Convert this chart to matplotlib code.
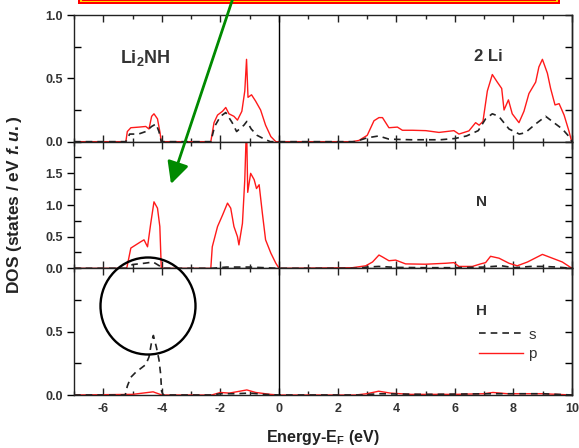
import numpy as np
import matplotlib.pyplot as plt
from matplotlib.patches import Rectangle, Ellipse, FancyArrowPatch
from matplotlib.lines import Line2D
from matplotlib.ticker import MultipleLocator, FormatStrFormatter

plt.rcParams['font.family'] = ['Liberation Sans', 'DejaVu Sans']
plt.rcParams['font.weight'] = 'bold'
plt.rcParams['axes.unicode_minus'] = False
plt.rcParams['mathtext.fontset'] = 'custom'
plt.rcParams['mathtext.rm'] = 'Liberation Sans:bold'
plt.rcParams['mathtext.bf'] = 'Liberation Sans:bold'
plt.rcParams['mathtext.it'] = 'Liberation Sans:italic:bold'

# ---- data (energy in eV, DOS in states/eV f.u.) ----
# panel 1: 2 Li
li_p_e = [-7, -5.23, -5.18, -5.06, -4.78, -4.55, -4.44, -4.35, -4.27, -4.15, -4.07, -4.02,
          -2.33, -2.22, -2.10, -1.93, -1.82, -1.71, -1.54, -1.42, -1.27, -1.17, -1.11, -1.06,
          -0.94, -0.80, -0.63, -0.46, -0.28, -0.11,
          2.50, 2.73, 3.01, 3.24, 3.41, 3.53, 3.75, 4.04, 4.21, 4.55, 5.01, 5.46, 5.97, 6.14, 6.48,
          6.71, 6.83, 6.96, 7.11, 7.28, 7.45, 7.60, 7.68, 7.83, 7.96, 8.19, 8.36, 8.53, 8.76,
          8.87, 8.99, 9.16, 9.27, 9.42, 9.56, 9.73, 9.90, 9.99]
li_p = [0, 0, 0.08, 0.11, 0.115, 0.12, 0.10, 0.20, 0.22, 0.18, 0.08, 0,
        0, 0.15, 0.21, 0.24, 0.27, 0.22, 0.20, 0.17, 0.24, 0.40, 0.65, 0.35,
        0.37, 0.32, 0.25, 0.13, 0.04, 0,
        0, 0.01, 0.05, 0.165, 0.19, 0.19, 0.11, 0.115, 0.09, 0.09, 0.087, 0.073, 0.087, 0.06, 0.085,
        0.15, 0.13, 0.16, 0.40, 0.53, 0.47, 0.42, 0.25, 0.33, 0.22, 0.15, 0.24, 0.38, 0.47,
        0.59, 0.65, 0.54, 0.42, 0.29, 0.30, 0.21, 0.08, 0]
li_s_e = [-7, -5.23, -5.10, -4.80, -4.55, -4.35, -4.20, -4.10, -4.02,
          -2.33, -2.20, -2.00, -1.82, -1.60, -1.45, -1.20, -1.10, -0.95, -0.75, -0.50, -0.30,
          2.60, 3.00, 3.40, 3.75, 4.50, 5.50, 6.00, 6.40, 6.80, 7.05, 7.28, 7.50, 7.85, 8.20,
          8.40, 8.76, 9.10, 9.44, 9.67, 9.90, 10]
li_s = [0, 0, 0.06, 0.06, 0.08, 0.12, 0.14, 0.08, 0,
        0, 0.12, 0.20, 0.23, 0.15, 0.08, 0.13, 0.16, 0.10, 0.05, 0.02, 0,
        0, 0.03, 0.045, 0.02, 0.015, 0.015, 0.025, 0.045, 0.087, 0.18, 0.22, 0.20, 0.10, 0.06,
        0.07, 0.14, 0.20, 0.14, 0.10, 0.04, 0]

# panel 2: N
n_p_e = [-7, -5.20, -5.06, -4.89, -4.72, -4.61, -4.49, -4.38, -4.27, -4.15, -4.07, -4.02,
         -2.33, -2.28, -2.10, -1.93, -1.76, -1.65, -1.54, -1.42, -1.37, -1.25, -1.17, -1.11,
         -1.07, -0.97, -0.85, -0.77, -0.68, -0.57, -0.46, -0.28, -0.11, 0,
         2.50, 2.96, 3.19, 3.41, 3.53, 3.75, 3.98, 4.32, 5.00, 5.69, 5.97, 6.14, 6.60, 6.88,
         7.05, 7.22, 7.51, 7.85, 8.13, 8.48, 8.99, 9.33, 9.67, 10]
n_p = [0, 0, 0.32, 0.37, 0.42, 0.45, 0.34, 0.71, 1.05, 0.95, 0.66, 0,
       0, 0.34, 0.66, 0.84, 1.03, 0.95, 0.66, 0.50, 0.37, 0.71, 1.40, 2.30,
       1.20, 1.50, 1.40, 1.26, 1.32, 0.87, 0.45, 0.24, 0.08, 0,
       0.01, 0.04, 0.10, 0.21, 0.18, 0.12, 0.13, 0.07, 0.065, 0.08, 0.09, 0.03, 0.03, 0.07,
       0.09, 0.19, 0.16, 0.08, 0.04, 0.10, 0.22, 0.16, 0.10, 0]
n_s_e = [-7, -5.20, -5.00, -4.60, -4.30, -4.05, -4.00,
         -2.30, -1.80, -1.00, -0.50, 0,
         2.70, 3.00, 3.40, 4.00, 5.00, 6.00, 7.00, 7.30, 7.60, 8.00, 8.60, 9.00, 9.50, 10]
n_s = [0, 0, 0.06, 0.08, 0.10, 0.03, 0,
       0, 0.02, 0.02, 0.01, 0,
       0, 0.02, 0.03, 0.015, 0.01, 0.01, 0.02, 0.03, 0.04, 0.01, 0.03, 0.03, 0.02, 0]

# panel 3: H
h_s_e = [-7, -5.25, -5.18, -5.06, -4.89, -4.72, -4.55, -4.44, -4.35, -4.29, -4.19, -4.10,
         -4.04, -4.01, -3.95, -2.30, -2.00, -1.50, -1.00, -0.50, 0,
         2.80, 3.40, 5.00, 7.30, 9.00, 10]
h_s = [0, 0, 0.07, 0.14, 0.18, 0.21, 0.24, 0.30, 0.42, 0.47, 0.38, 0.28,
       0.16, 0.03, 0, 0, 0.01, 0.01, 0.015, 0.005, 0,
       0, 0.01, 0.005, 0.01, 0.01, 0]
h_p_e = [-7, -5.00, -4.30, -4.00, -2.30, -2.00, -1.70, -1.10, -0.80, -0.30, 0,
         2.60, 3.00, 3.40, 3.80, 4.50, 6.00, 7.00, 7.30, 7.80, 9.00, 10]
h_p = [0, 0.005, 0.025, 0, 0, 0.02, 0.015, 0.04, 0.02, 0.005, 0,
       0, 0.01, 0.03, 0.015, 0.005, 0.005, 0.01, 0.02, 0.01, 0.01, 0]

panel_names = ['Li$_\\mathrm{2}$NH', 'N', 'H']
ylims = [1.0, 2.0, 1.0]
ytick_sets = [[0, 0.5, 1.0], [0, 0.5, 1.0, 1.5], [0, 0.5]]
xticks = [-6, -4, -2, 0, 2, 4, 6, 8, 10]

W, H = 579, 448
fig = plt.figure(figsize=(W / 100, H / 100), dpi=100)
gs = fig.add_gridspec(3, 1, left=74 / W, right=572 / W, top=1 - 15 / H,
                      bottom=1 - 395 / H, hspace=0)
axes = [fig.add_subplot(gs[i]) for i in range(3)]

series = [(li_s_e, li_s, li_p_e, li_p), (n_s_e, n_s, n_p_e, n_p), (h_s_e, h_s, h_p_e, h_p)]
tcol = '#333333'
for i, ax in enumerate(axes):
    se, s, pe, p = series[i]
    ax.plot(pe, p, color='#ff1a1a', lw=1.0)
    ax.plot(se, s, color='#222222', lw=1.2, ls=(0, (4, 3)))
    ax.axvline(0, color='k', lw=1.0)
    ax.set_xlim(-7, 10)
    ax.set_ylim(0, ylims[i])
    ax.set_xticks(xticks)
    ax.xaxis.set_minor_locator(MultipleLocator(1))
    ax.set_yticks(ytick_sets[i])
    ax.yaxis.set_major_formatter(FormatStrFormatter('%.1f'))
    ax.yaxis.set_minor_locator(MultipleLocator(0.25))
    ax.tick_params(axis='x', which='both', direction='in', top=True, bottom=True,
                   labelbottom=(i == 2), colors='#222222', labelcolor=tcol, labelsize=9,
                   pad=6)
    ax.tick_params(axis='x', which='major', length=5, width=1)
    ax.tick_params(axis='x', which='minor', length=3, width=1)
    ax.tick_params(axis='y', which='major', direction='out', length=5, width=1,
                   labelsize=9, labelcolor=tcol, pad=3)
    ax.tick_params(axis='y', which='minor', direction='in', length=5, width=1)
    sec = ax.secondary_yaxis('right')
    sec.yaxis.set_major_locator(MultipleLocator(0.5))
    sec.yaxis.set_minor_locator(MultipleLocator(0.25))
    sec.tick_params(which='both', direction='in', length=5, width=1, labelright=False)
    for sp in ax.spines.values():
        sp.set_linewidth(1.0)
        sp.set_color('#222222')
    sec.spines['right'].set_linewidth(1.0)

axes[0].text(0.143, 0.66, panel_names[0], transform=axes[0].transAxes, fontsize=13,
             ha='center', va='center', color='#333333')
axes[0].text(0.831, 0.67, '2 Li', transform=axes[0].transAxes, fontsize=12,
             ha='center', va='center', color='#333333')
axes[1].text(0.819, 0.52, panel_names[1], transform=axes[1].transAxes, fontsize=11,
             ha='center', va='center', color='#333333')
axes[2].text(0.819, 0.66, panel_names[2], transform=axes[2].transAxes, fontsize=11,
             ha='center', va='center', color='#333333')

handles = [Line2D([], [], color='#222222', lw=1.2, ls=(0, (4, 3))),
           Line2D([], [], color='#ff1a1a', lw=1.0)]
axes[2].legend(handles, ['s', 'p'], loc='upper left', bbox_to_anchor=(0.785, 0.64),
               frameon=False, handlelength=2.9, handletextpad=0.35, labelspacing=0.35,
               prop={'weight': 'normal', 'size': 11}, labelcolor='#333333')

fig.text(323 / W, 1 - 437 / H, 'Energy-E$_\\mathrm{F}$ (eV)', ha='center', va='center',
         fontsize=11.5, color='#222222')
fig.text(15 / W, 1 - 205 / H, 'DOS (states / eV $\\mathit{f.u.}$)', rotation=90,
         ha='center', va='center', fontsize=12.5, color='#222222')


def fp(x, y):
    return (x / W, 1 - y / H)


# red/yellow box at the top edge
fig.add_artist(Rectangle(fp(78, 4.5), (560 - 78) / W, 10 / H, transform=fig.transFigure,
                         facecolor='#ff0000', edgecolor='none'))
fig.add_artist(Rectangle(fp(80, 2.5), (558 - 80) / W, 10 / H, transform=fig.transFigure,
                         facecolor='#ffd800', edgecolor='none'))
fig.add_artist(Rectangle(fp(82, 1.3), (556 - 82) / W, 10 / H, transform=fig.transFigure,
                         facecolor='#ff0000', edgecolor='none'))

# green arrow
fig.add_artist(FancyArrowPatch(fp(233, -2), fp(171, 184), transform=fig.transFigure,
                               arrowstyle='-|>,head_length=1.1,head_width=0.55',
                               mutation_scale=12, color='#008a00', lw=2.0,
                               shrinkA=0, shrinkB=0))

# black circle
fig.add_artist(Ellipse(fp(148, 306), 95 / W, 97 / H, transform=fig.transFigure,
                       fill=False, lw=1.7, color='black'))

fig.savefig('out.png', dpi=100)
